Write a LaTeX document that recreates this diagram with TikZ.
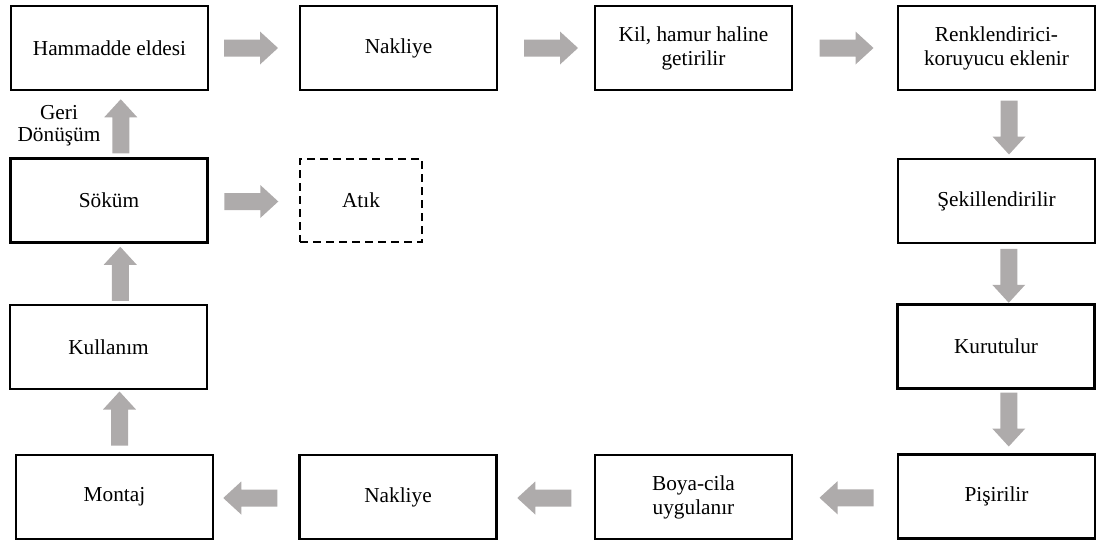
\documentclass[tikz,border=0pt]{standalone}
\usepackage{fontspec}
\setmainfont{Liberation Serif}
\usetikzlibrary{calc}
\definecolor{flowgrey}{RGB}{174,171,171}
\tikzset{
  stage/.style={draw=black, line width=2.6pt, minimum width=197pt, minimum height=84pt,
    align=center, inner sep=0pt, font=\fontsize{21.3}{24}\selectfont},
  waste/.style={stage, line width=2.4pt, dash pattern=on 8pt off 5pt, minimum width=122pt, minimum height=83pt},
  note/.style={align=center, inner sep=0pt, font=\fontsize{21.3}{22}\selectfont},
  % broad grey block arrow, 54pt long, pointing along +x before rotation
  pics/blockarrow/.style={code={
    \fill[flowgrey] (-27,-8.5) -- (9,-8.5) -- (9,-16.5) -- (27,0) -- (9,16.5) -- (9,8.5) -- (-27,8.5) -- cycle;
  }}
}
\begin{document}
\begin{tikzpicture}[x=1pt, y=-1pt]
  \useasboundingbox (0,0) rectangle (1103,542);

  % process stages
  \node[stage] (ham)   at (109.5,48)  {Hammadde eldesi};
  \node[stage] (nak1)  at (398.5,48)  {Nakliye};
  \node[stage] (kil)   at (693.5,48)  {Kil, hamur haline\\getirilir};
  \node[stage] (renk)  at (996.5,48)  {Renklendirici-\\koruyucu eklenir};
  \node[stage] (sekil) at (996.5,201) {Şekillendirilir};
  \node[stage] (kurut) at (996,346.5) {Kurutulur};
  \node[stage] (pis)   at (996.5,496.5) {Pişirilir};
  \node[stage] (boya)  at (693.5,497) {Boya-cila\\uygulanır};
  \node[stage] (nak2)  at (398,497)   {Nakliye};
  \node[stage] (mon)   at (114.5,497) {Montaj};
  \node[stage] (kul)   at (108.5,347) {Kullanım};
  \node[stage] (sok)   at (109,200.5) {Söküm};
  \node[waste] (atik)  at (361,200.5) {Atık};

  % flow arrows along the top row
  \pic at ($(ham.east)!0.5!(nak1.west)+(-3,0)$) {blockarrow};
  \pic at ($(nak1.east)!0.5!(kil.west)+(5,0)$) {blockarrow};
  \pic at ($(kil.east)!0.5!(renk.west)+(1.5,0)$) {blockarrow};

  % down the right column
  \pic[rotate=270] at ($(renk.south)!0.5!(sekil.north)+(12.5,3)$) {blockarrow};
  \pic[rotate=270] at ($(sekil.south)!0.5!(kurut.north)+(12.5,2)$) {blockarrow};
  \pic[rotate=270] at ($(kurut.south)!0.5!(pis.north)+(12.5,-2)$) {blockarrow};

  % back along the bottom row
  \pic[rotate=180] at ($(pis.west)!0.5!(boya.east)+(1.5,1)$) {blockarrow};
  \pic[rotate=180] at ($(boya.west)!0.5!(nak2.east)+(-1.5,1)$) {blockarrow};
  \pic[rotate=180] at ($(nak2.west)!0.5!(mon.east)+(-6,1)$) {blockarrow};

  % up the left column
  \pic[rotate=90] at ($(mon.north)!0.5!(kul.south)+(8,-3.5)$) {blockarrow};
  \pic[rotate=90] at ($(kul.north)!0.5!(sok.south)+(11.5,0)$) {blockarrow};
  \pic[rotate=90] at ($(sok.north)!0.5!(ham.south)+(11.5,2)$) {blockarrow};
  \node[note] (geri) at (59,126) {Geri\\Dönüşüm};

  % waste branch
  \pic at ($(sok.east)!0.5!(atik.west)+(-2.5,1)$) {blockarrow};
\end{tikzpicture}
\end{document}
